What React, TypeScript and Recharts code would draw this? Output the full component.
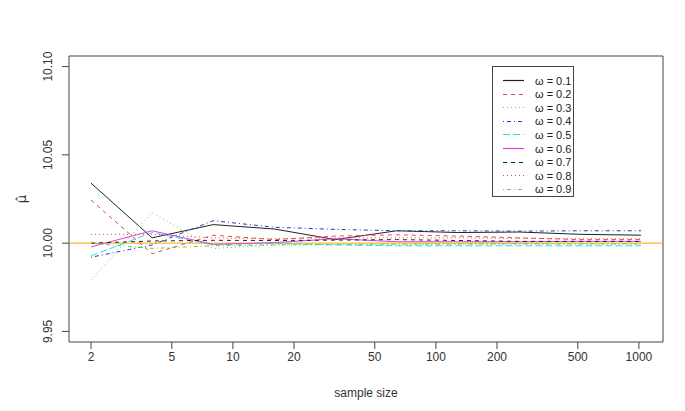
import React from 'react';
import { LineChart, Line, XAxis, YAxis, ReferenceLine, ReferenceArea, Label } from 'recharts';

// sample sizes (log scale on x)
const sampleSizes = [2, 4, 8, 16, 32, 64, 128, 256, 512, 1024];
const xTicks = [2, 5, 10, 20, 50, 100, 200, 500, 1000];
const yTicks = [9.95, 10.0, 10.05, 10.1];

const omegaLabels = ['0.1', '0.2', '0.3', '0.4', '0.5', '0.6', '0.7', '0.8', '0.9'];

const w01 = [10.034, 10.003, 10.0105, 10.008, 10.002, 10.007, 10.006, 10.0063, 10.005, 10.0045];
const w02 = [10.0244, 9.994, 10.0045, 10.002, 10.004, 10.0047, 10.004, 10.003, 10.002, 10.002];
const w03 = [9.979, 10.0174, 9.997, 9.999, 9.999, 9.999, 9.9995, 9.9995, 9.9995, 9.9995];
const w04 = [9.992, 9.999, 10.0127, 10.009, 10.0078, 10.007, 10.007, 10.0068, 10.007, 10.007];
const w05 = [9.9928, 10.006, 9.999, 10.0, 9.999, 9.9985, 9.9985, 9.9985, 9.9985, 9.9985];
const w06 = [9.9979, 10.007, 9.9993, 10.0003, 10.0025, 10.0008, 10.0008, 10.0008, 10.001, 10.001];
const w07 = [10.0, 10.0012, 10.0016, 10.0015, 10.0017, 10.002, 10.0015, 10.001, 10.001, 10.001];
const w08 = [10.005, 10.005, 10.003, 10.0025, 10.003, 10.003, 10.003, 10.0027, 10.0025, 10.0025];
const w09 = [10.0, 9.997, 9.9985, 9.999, 9.9993, 9.9994, 9.9995, 9.9996, 9.9996, 9.9996];

const seriesValues = [w01, w02, w03, w04, w05, w06, w07, w08, w09];

const styles = [
  { color: '#222222', dash: undefined },
  { color: '#e8474a', dash: '4 4' },
  { color: '#61d04f', dash: '1 3' },
  { color: '#2a35c8', dash: '1 3 4 3' },
  { color: '#28e2e5', dash: '7 3' },
  { color: '#e040e0', dash: undefined },
  { color: '#222222', dash: '4 4' },
  { color: '#e8474a', dash: '1 3' },
  { color: '#61d04f', dash: '1 3 4 3' },
];

const data = sampleSizes.map((n, i) => {
  const row: any = { n };
  seriesValues.forEach((s, k) => { row['w' + k] = s[i]; });
  return row;
});

const FONT = '"Liberation Sans", Arial, sans-serif';

const YTick = ({ x, y, payload }: any) => (
  <text x={x - 8} y={y} transform={`rotate(-90, ${x - 8}, ${y})`} textAnchor="middle"
    fontSize={12} fill="#333" fontFamily={FONT}>
    {Number(payload.value).toFixed(2)}
  </text>
);

const MuLabel = ({ viewBox }: any) => {
  const cx = 26;
  const cy = viewBox.y + viewBox.height / 2;
  return (
    <text x={cx} y={cy} transform={`rotate(-90, ${cx}, ${cy})`} textAnchor="middle"
      fontSize={13} fill="#333" fontFamily='"DejaVu Sans", sans-serif'>
      {'\u03bc\u0302'}
    </text>
  );
};

const LegendBox = () => (
  <div style={{ position: 'absolute', left: 492, top: 66, border: '1px solid #444', background: '#fff', width: 82, height: 131, boxSizing: 'border-box', fontFamily: FONT, fontSize: 11, color: '#222' }}>
    {omegaLabels.map((lab, i) => (
      <div key={lab} style={{ position: 'absolute', left: 0, top: 7 + i * 13.6, height: 13, display: 'flex', alignItems: 'center' }}>
        <svg width={40} height={13} style={{ display: 'block' }}>
          <line x1={10} x2={31} y1={6.5} y2={6.5} stroke={styles[i].color} strokeWidth={1.2} strokeDasharray={styles[i].dash} />
        </svg>
        <span style={{ marginLeft: 2, whiteSpace: 'pre' }}>{'\u03c9 = ' + lab}</span>
      </div>
    ))}
  </div>
);

const X_MIN = 2 / Math.pow(10, 0.1084);
const X_MAX = 1024 * Math.pow(10, 0.1084);

export default function App() {
  return (
    <div style={{ position: 'absolute', left: 0, top: 0, width: 685, height: 411, background: '#fff' }}>
      <LineChart width={685} height={411} data={data} margin={{ top: 56, right: 22, left: 0, bottom: 0 }}>
        <XAxis dataKey="n" type="number" scale="log" domain={[X_MIN, X_MAX]} allowDataOverflow
          ticks={xTicks} axisLine={false} tickSize={7} tickMargin={3} height={69}
          tick={{ fontSize: 12, fill: '#333', fontFamily: FONT }} tickLine={{ stroke: '#444' }}>
          <Label value="sample size" position="insideBottom" offset={14} fontSize={12} fill="#333" fontFamily={FONT} />
        </XAxis>
        <YAxis type="number" domain={[9.944, 10.106]} allowDataOverflow ticks={yTicks} width={69}
          axisLine={false} tickSize={7} tick={<YTick />} tickLine={{ stroke: '#444' }}>
          <Label content={<MuLabel />} />
        </YAxis>
        <ReferenceArea x1={X_MIN} x2={X_MAX} y1={9.944} y2={10.106} fill="none" fillOpacity={0} stroke="#444" strokeWidth={1} ifOverflow="visible" />
        <ReferenceLine y={10} stroke="#ffa500" strokeWidth={1} />
        {styles.map((s, k) => (
          <Line key={k} type="linear" dataKey={'w' + k} stroke={s.color} strokeWidth={1}
            strokeDasharray={s.dash} dot={false} activeDot={false} isAnimationActive={false} />
        ))}
      </LineChart>
      <LegendBox />
    </div>
  );
}
